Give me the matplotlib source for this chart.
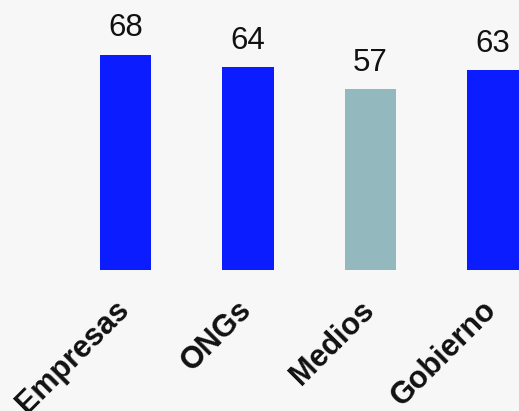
import matplotlib
matplotlib.use("Agg")
import matplotlib.pyplot as plt
from matplotlib.transforms import ScaledTranslation

# scores by sector
sectors = ["Empresas", "ONGs", "Medios", "Gobierno"]
scores = [68, 64, 57, 63]
bar_colors = ["#0b1cff", "#0b1cff", "#93b9bf", "#0b1cff"]

bg = "#f7f7f7"
plt.rcParams['font.family'] = ['Liberation Sans', 'DejaVu Sans']

fig = plt.figure(figsize=(5.19, 4.11), dpi=100, facecolor=bg)
ax = fig.add_axes([0, 141/411, 1, 270/411])
ax.set_facecolor(bg)

x = range(len(sectors))
bars = ax.bar(x, scores, width=0.42, color=bar_colors)

for xi, v in zip(x, scores):
    ax.annotate(str(v), (xi, v), xytext=(0, 8), textcoords="offset points",
                ha="center", va="bottom", fontsize=22.5, color="#111111")

ax.set_xlim(-1.0245, 3.212)
ax.set_ylim(0, 85.2)
ax.set_xticks(list(x))
ax.set_xticklabels(sectors, rotation=45, ha="right", rotation_mode="anchor",
                   fontsize=22, fontweight="bold", color="#111111")
ax.tick_params(axis="x", length=0, pad=18)
# nudge the slanted labels a little to the left
shift = ScaledTranslation(-8/72, 0, fig.dpi_scale_trans)
for lab in ax.get_xticklabels():
    lab.set_transform(lab.get_transform() + shift)
ax.set_yticks([])
for s in ax.spines.values():
    s.set_visible(False)

fig.savefig("out.png", dpi=100, facecolor=bg)
